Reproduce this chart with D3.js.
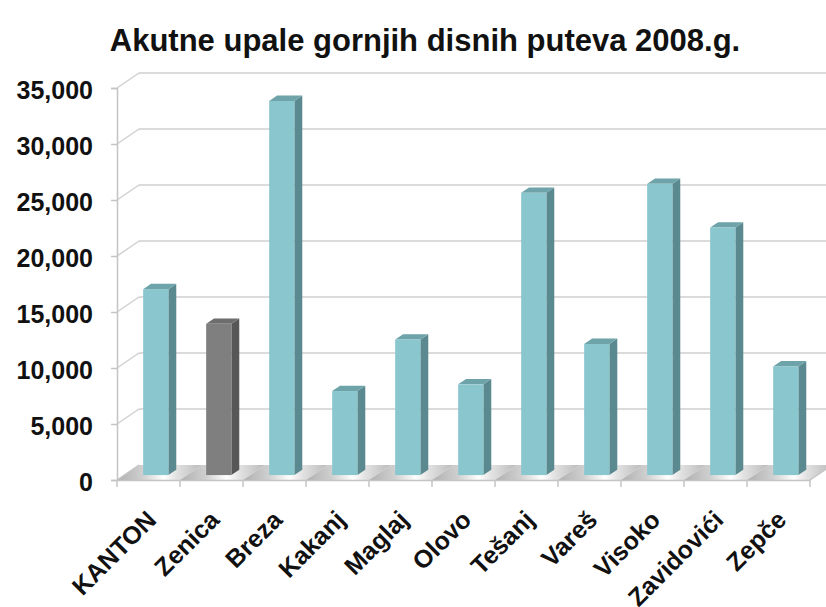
<!DOCTYPE html>
<html>
<head>
<meta charset="utf-8">
<script src="https://cdn.jsdelivr.net/npm/d3@7"></script>
<style>
  body { margin: 0; background: #fff; }
  svg text { font-family: "Liberation Sans", Arial, sans-serif; font-weight: bold; fill: #111; }
</style>
</head>
<body>
<div id="chart"></div>
<script>
// data
var categories = ['KANTON', 'Zenica', 'Breza', 'Kakanj', 'Maglaj', 'Olovo', 'Tešanj', 'Vareš', 'Visoko', 'Zavidovići', 'Zepče'];
var cases = [16600, 13500, 33400, 7500, 12100, 8100, 25200, 11700, 26000, 22100, 9700];
var highlighted = ['Zenica'];
var yTicks = [0, 5000, 10000, 15000, 20000, 25000, 30000, 35000];
var title = 'Akutne upale gornjih disnih puteva 2008.g.';

var width = 826, height = 607;
var plotLeft = 117, plotRight = 810, plotBottom = 480, plotTop = 88;
var depthX = 22, depthY = -15;   // full depth of the floor
var barFront = 0.33, barDepth = 0.36;  // bar position inside that depth

var svg = d3.select('#chart').append('svg')
    .attr('width', width)
    .attr('height', height);

var defs = svg.append('defs');
var floorGrad = defs.append('linearGradient')
    .attr('id', 'floor')
    .attr('x1', 0).attr('x2', 1).attr('y1', 0).attr('y2', 0);
[[0, '#b0b0b0'], [0.3, '#cfcfcf'], [0.55, '#ffffff'], [0.7, '#e2e2e2'], [1, '#bababa']].forEach(function (s) {
  floorGrad.append('stop').attr('offset', s[0]).attr('stop-color', s[1]);
});

var x = d3.scaleBand()
    .domain(categories)
    .range([plotLeft, plotRight]);

var xBar = d3.scaleBand()
    .domain(categories)
    .range([plotLeft, plotRight])
    .paddingInner(0.6)
    .paddingOuter(0.3);

var y = d3.scaleLinear()
    .domain([0, 35000])
    .range([plotBottom, plotTop]);

svg.append('text')
    .attr('x', 425)
    .attr('y', 51)
    .attr('text-anchor', 'middle')
    .style('font-size', '31px')
    .text(title);

// back wall gridlines and left wall diagonals
var grid = svg.append('g').attr('class', 'grid');
grid.selectAll('line.h')
    .data(yTicks.slice(1))
    .enter().append('line')
      .attr('class', 'h')
      .attr('x1', plotLeft + depthX)
      .attr('x2', plotRight + depthX)
      .attr('y1', function (d) { return y(d) + depthY; })
      .attr('y2', function (d) { return y(d) + depthY; })
      .attr('stroke', '#cfcfcf')
      .attr('stroke-width', 1.5);

grid.selectAll('line.d')
    .data(yTicks.slice(1))
    .enter().append('line')
      .attr('class', 'd')
      .attr('x1', plotLeft)
      .attr('x2', plotLeft + depthX)
      .attr('y1', function (d) { return y(d); })
      .attr('y2', function (d) { return y(d) + depthY; })
      .attr('stroke', '#cfcfcf')
      .attr('stroke-width', 1.5);

// floor, one slab per category
svg.append('g').selectAll('path')
    .data(categories)
    .enter().append('path')
      .attr('d', function (d) {
        var x0 = x(d), x1 = x(d) + x.bandwidth();
        return 'M' + x0 + ',' + plotBottom + 'L' + x1 + ',' + plotBottom +
          'L' + (x1 + depthX) + ',' + (plotBottom + depthY) +
          'L' + (x0 + depthX) + ',' + (plotBottom + depthY) + 'Z';
      })
      .attr('fill', 'url(#floor)');

svg.append('path')
    .attr('d', 'M' + plotLeft + ',' + plotBottom + 'L' + (plotLeft + depthX) + ',' + (plotBottom + depthY) +
      'M' + plotRight + ',' + plotBottom + 'L' + (plotRight + depthX) + ',' + (plotBottom + depthY))
    .attr('stroke', '#c4c4c4')
    .attr('stroke-width', 1.5);

// bars
var fx = barFront * depthX, fy = barFront * depthY;
var sx = barDepth * depthX, sy = barDepth * depthY;
var bars = svg.append('g').selectAll('g')
    .data(categories.map(function (c, i) { return { name: c, value: cases[i] }; }))
    .enter().append('g');

function colors(d) {
  return highlighted.indexOf(d.name) >= 0 ?
    { front: '#7f7f7f', side: '#575757', top: '#6d6d6d' } :
    { front: '#89c6ce', side: '#5a8a8f', top: '#6ea3a9' };
}

bars.append('path')
    .attr('d', function (d) {
      var x0 = xBar(d.name) + fx + xBar.bandwidth(), yt = y(d.value) + fy, yb = y(0) + fy;
      return 'M' + x0 + ',' + yt + 'L' + (x0 + sx) + ',' + (yt + sy) +
        'L' + (x0 + sx) + ',' + (yb + sy) + 'L' + x0 + ',' + yb + 'Z';
    })
    .attr('fill', function (d) { return colors(d).side; });

bars.append('path')
    .attr('d', function (d) {
      var x0 = xBar(d.name) + fx, x1 = x0 + xBar.bandwidth(), yt = y(d.value) + fy;
      return 'M' + x0 + ',' + yt + 'L' + x1 + ',' + yt +
        'L' + (x1 + sx) + ',' + (yt + sy) + 'L' + (x0 + sx) + ',' + (yt + sy) + 'Z';
    })
    .attr('fill', function (d) { return colors(d).top; });

bars.append('rect')
    .attr('x', function (d) { return xBar(d.name) + fx; })
    .attr('y', function (d) { return y(d.value) + fy; })
    .attr('width', xBar.bandwidth())
    .attr('height', function (d) { return y(0) - y(d.value); })
    .attr('fill', function (d) { return colors(d).front; });

// axes
var yAxis = d3.axisLeft(y)
    .tickValues(yTicks)
    .tickSize(6)
    .tickPadding(18)
    .tickFormat(d3.format(','));

var gy = svg.append('g')
    .attr('transform', 'translate(' + plotLeft + ',0)')
    .call(yAxis);
gy.select('.domain').attr('stroke', '#c4c4c4').attr('stroke-width', 1.5);
gy.selectAll('.tick line').attr('stroke', '#c4c4c4').attr('stroke-width', 1.5);
gy.selectAll('.tick text')
    .style('font-size', '25px')
    .attr('dy', '0.4em');

var xAxis = d3.axisBottom(x)
    .tickSize(0)
    .tickFormat('');
var gx = svg.append('g')
    .attr('transform', 'translate(0,' + plotBottom + ')')
    .call(xAxis);
gx.select('.domain').attr('stroke', '#c4c4c4').attr('stroke-width', 1.5);

svg.append('g').selectAll('line')
    .data(categories.concat(['end']))
    .enter().append('line')
      .attr('x1', function (d, i) { return plotLeft + i * x.step(); })
      .attr('x2', function (d, i) { return plotLeft + i * x.step(); })
      .attr('y1', plotBottom)
      .attr('y2', plotBottom + 7)
      .attr('stroke', '#c4c4c4')
      .attr('stroke-width', 1.5);

svg.append('g').selectAll('text')
    .data(categories)
    .enter().append('text')
      .attr('transform', function (d) {
        return 'translate(' + (x(d) + x.bandwidth() / 2 - 3) + ',' + (plotBottom + 29) + ') rotate(-45)';
      })
      .attr('text-anchor', 'end')
      .attr('dy', '0.7em')
      .style('font-size', '25px')
      .text(function (d) { return d; });
</script>
</body>
</html>
